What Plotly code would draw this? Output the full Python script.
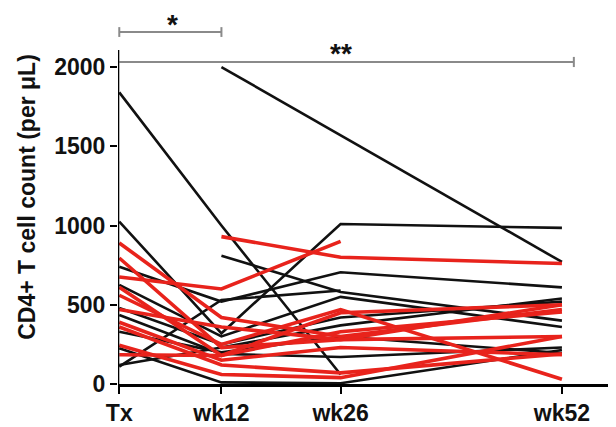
import plotly.graph_objects as go

weeks = [0, 12, 26, 52]
tick_labels = ["Tx", "wk12", "wk26", "wk52"]

black_series = [
    [1840, 1000, 60, None],
    [None, 2000, None, 770],
    [1025, 320, 1010, 985],
    [None, 810, 580, 400],
    [110, 530, 590, None],
    [120, 230, 370, 540],
    [740, 520, 705, 610],
    [625, 300, 550, 360],
    [480, 250, 420, 520],
    [435, 190, 170, 230],
    [330, 200, 300, 195],
    [225, 10, 5, 215],
]
red_series = [
    [890, 420, 300, 470],
    [795, 230, 280, 300],
    [675, 600, 900, None],
    [610, 180, 450, 500],
    [None, 930, 800, 760],
    [560, 250, 470, 30],
    [390, 150, 230, 185],
    [360, 120, 70, 190],
    [245, 60, 40, 300],
    [185, 180, 330, 455],
    [470, 360, 280, 500],
]

sig_labels = ["*", "**"]

fig = go.Figure()

def add_series(vals, color, width):
    xs, ys = [], []
    for w, v in zip(weeks, vals):
        if v is not None:
            xs.append(w)
            ys.append(v)
    fig.add_trace(go.Scatter(x=xs, y=ys, mode="lines",
                             line=dict(color=color, width=width),
                             showlegend=False, hoverinfo="skip"))

for s in black_series:
    add_series(s, "#111111", 2.6)
for s in red_series:
    add_series(s, "#e8231c", 3.6)

gray = "#8a8a8a"
fig.add_shape(type="line", xref="x", yref="y", x0=0, x1=12, y0=2221, y1=2221,
              line=dict(color=gray, width=2))
fig.add_shape(type="line", xref="x", yref="y", x0=0, x1=0, y0=2190, y1=2252,
              line=dict(color=gray, width=2))
fig.add_shape(type="line", xref="x", yref="y", x0=12, x1=12, y0=2190, y1=2252,
              line=dict(color=gray, width=2))
fig.add_shape(type="line", xref="x", yref="y", x0=0, x1=53.4, y0=2032, y1=2032,
              line=dict(color=gray, width=2))
fig.add_shape(type="line", xref="x", yref="y", x0=53.4, x1=53.4, y0=2000, y1=2064,
              line=dict(color=gray, width=2))
fig.add_shape(type="line", xref="x", yref="y", x0=-0.15, x1=-0.15, y0=0, y1=2107,
              line=dict(color="#000000", width=2.6))

fig.add_annotation(x=6.2, y=2270, xref="x", yref="y", text="<b>" + sig_labels[0] + "</b>",
                   showarrow=False, font=dict(size=28, color="#111", family="Arial"))
fig.add_annotation(x=26.0, y=2085, xref="x", yref="y", text="<b>" + sig_labels[1] + "</b>",
                   showarrow=False, font=dict(size=28, color="#111", family="Arial"))

fig.update_layout(
    width=608, height=419,
    margin=dict(l=110, r=3, t=2, b=43),
    plot_bgcolor="white", paper_bgcolor="white",
    font=dict(family="Arial", color="#111"),
)
fig.update_xaxes(
    range=[-0.15, 58], tickvals=weeks, ticktext=tick_labels,
    showgrid=False, zeroline=False, showline=True, linecolor="#000", linewidth=2.6,
    ticks="outside", ticklen=7, tickwidth=2, tickcolor="#000",
    tickfont=dict(size=23, family="Arial", weight="bold", color="#111"),
    automargin=False,
)
fig.update_yaxes(
    range=[0, 2360], tickvals=[0, 500, 1000, 1500, 2000],
    showgrid=False, zeroline=False, showline=False,
    ticks="outside", ticklen=7, tickwidth=2, tickcolor="#000",
    tickfont=dict(size=23, family="Arial", weight="bold", color="#111"),
    title=dict(text="CD4+ T cell count (per μL)", standoff=12,
               font=dict(size=23, family="Arial", weight="bold", color="#111")),
    automargin=False,
)

fig.write_html("out.html")
